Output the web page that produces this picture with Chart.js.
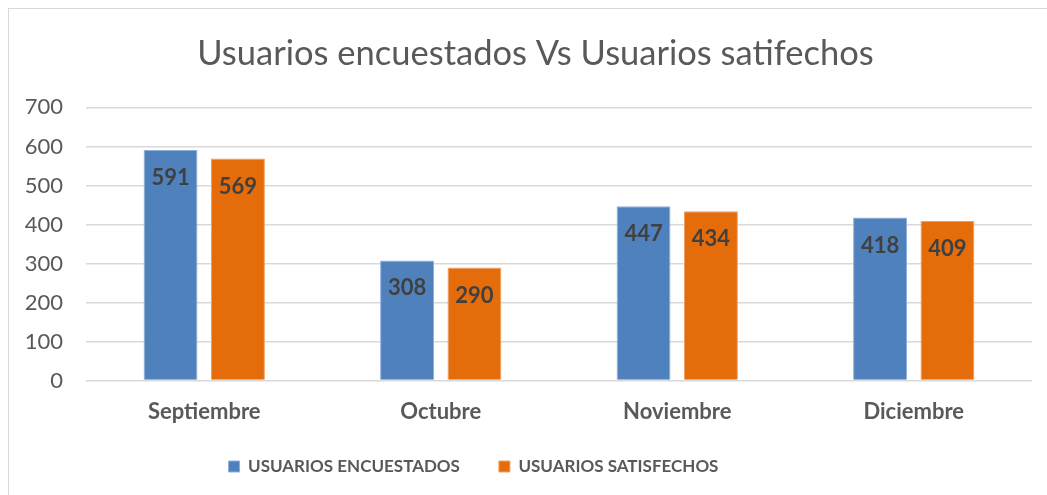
<!DOCTYPE html>
<html>
<head>
<meta charset="utf-8">
<script src="https://cdn.jsdelivr.net/npm/chart.js@4"></script>
<style>
  html, body { margin: 0; padding: 0; background: #fff; overflow: hidden; }
  #marco {
    position: absolute; left: 8px; top: 8px;
    width: 1060px; height: 500px;
    border: 1.5px solid #d9d9d9;
    background: #fff;
  }
</style>
</head>
<body>
<div id="marco">
  <canvas id="myBarChart" width="1053" height="487"></canvas>
</div>
<script>
var meses = ['Septiembre', 'Octubre', 'Noviembre', 'Diciembre'];
var encuestados = [591, 308, 447, 418];
var satisfechos = [569, 290, 434, 409];
var nombres = ['USUARIOS ENCUESTADOS', 'USUARIOS SATISFECHOS'];

var fuente = 'Lato, "Open Sans", sans-serif';

// etiquetas de valor dentro de la barra
var etiquetas = {
    id: 'etiquetas',
    afterDatasetsDraw: function(chart) {
        var ctx = chart.ctx;
        ctx.save();
        ctx.font = 'bold 22px ' + fuente;
        ctx.fillStyle = '#404040';
        ctx.textAlign = 'center';
        ctx.textBaseline = 'middle';
        chart.data.datasets.forEach(function(ds, i) {
            var meta = chart.getDatasetMeta(i);
            meta.data.forEach(function(bar, j) {
                ctx.fillText(ds.data[j], bar.x, bar.y + 28);
            });
        });
        ctx.restore();
    }
};

// la leyenda del original no esta centrada, va un poco a la izquierda y mas arriba
var moverLeyenda = {
    id: 'moverLeyenda',
    afterLayout: function(chart) {
        if (chart.legend) {
            chart.legend.left -= 62;
            chart.legend.right -= 62;
            chart.legend.top -= 24;
            chart.legend.bottom -= 24;
        }
    }
};

var ctx = document.getElementById('myBarChart').getContext('2d');
var myChart = new Chart(ctx, {
    type: 'bar',
    data: {
        labels: meses,
        datasets: [{
            label: nombres[0],
            data: encuestados,
            backgroundColor: '#4f81bd',
            borderColor: '#8eb1db',
            borderWidth: 1
        }, {
            label: nombres[1],
            data: satisfechos,
            backgroundColor: '#e46c0a',
            borderColor: '#f0a060',
            borderWidth: 1
        }]
    },
    options: {
        responsive: false,
        animation: false,
        categoryPercentage: 0.57,
        barPercentage: 0.8,
        layout: {
            padding: { left: 0, right: 0, top: 0, bottom: -13 }
        },
        plugins: {
            title: {
                display: true,
                text: 'Usuarios encuestados Vs Usuarios satifechos',
                color: '#595959',
                font: { family: fuente, size: 34.5, weight: 'normal' },
                padding: { top: 24, bottom: 33 }
            },
            legend: {
                position: 'bottom',
                labels: {
                    boxWidth: 11,
                    boxHeight: 11,
                    padding: 39,
                    color: '#595959',
                    font: { family: fuente, size: 17, weight: 'bold' }
                }
            },
            tooltip: { enabled: false }
        },
        scales: {
            x: {
                grid: { display: false, drawTicks: false },
                border: { display: false },
                ticks: {
                    color: '#595959',
                    padding: 18,
                    font: { family: fuente, size: 22, weight: 'bold' }
                }
            },
            y: {
                min: 0,
                max: 700,
                afterFit: function(scale) { scale.width = 77; },
                grid: { color: '#d9d9d9', lineWidth: 1.5, drawTicks: false },
                border: { display: false },
                ticks: {
                    stepSize: 100,
                    color: '#595959',
                    padding: 23,
                    font: { family: fuente, size: 22 }
                }
            },
            // eje vacio a la derecha, solo para dejar el hueco del original
            margen: {
                position: 'right',
                afterFit: function(scale) { scale.width = 30; },
                grid: { display: false, drawTicks: false },
                border: { display: false },
                ticks: { display: false }
            }
        }
    },
    plugins: [etiquetas, moverLeyenda]
});
</script>
</body>
</html>
